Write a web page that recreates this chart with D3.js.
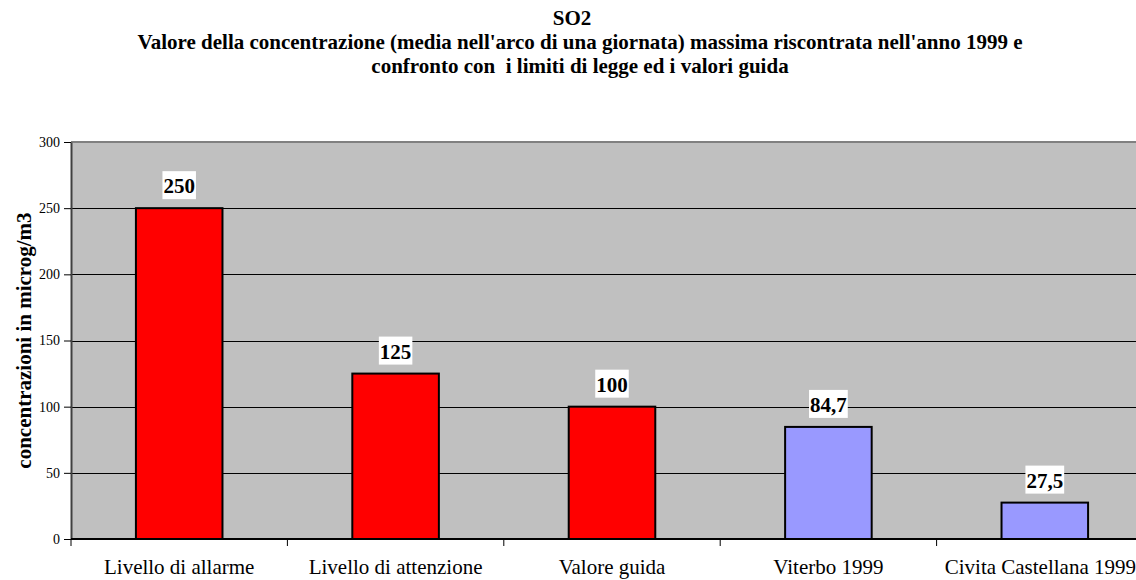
<!DOCTYPE html>
<html>
<head>
<meta charset="utf-8">
<script src="https://cdn.jsdelivr.net/npm/d3@7"></script>
<style>
  body { margin: 0; background: #fff; }
  text { font-family: "Liberation Serif", "Times New Roman", serif; }
</style>
</head>
<body>
<div id="chart"></div>
<script>
// Data
const categories = ["Livello di allarme", "Livello di attenzione", "Valore guida", "Viterbo 1999", "Civita Castellana 1999"];
const values = [250, 125, 100, 84.7, 27.5];
const barColors = ["#ff0000", "#ff0000", "#ff0000", "#9999ff", "#9999ff"];
const yTicks = [0, 50, 100, 150, 200, 250, 300];
const titleLines = [
    "SO2",
    "Valore della concentrazione (media nell'arco di una giornata) massima riscontrata nell'anno 1999 e",
    "confronto con  i limiti di legge ed i valori guida"
];

const width = 1136;
const height = 580;
const plot = { left: 71, right: 1153, top: 142, bottom: 539 };

const svg = d3.select("#chart")
    .append("svg")
    .attr("width", width)
    .attr("height", height);

// Title
svg.selectAll("text.title")
    .data(titleLines)
    .enter()
    .append("text")
    .attr("class", "title")
    .attr("x", (d, i) => i === 0 ? 572 : 580)
    .attr("y", (d, i) => 25 + i * 24)
    .attr("text-anchor", "middle")
    .attr("font-size", "21px")
    .attr("font-weight", "700")
    .style("white-space", "pre")
    .text(d => d);

// Scales
const x = d3.scaleBand()
    .domain(categories)
    .range([plot.left, plot.right])
    .paddingInner(0.6)
    .paddingOuter(0.3);

const xTick = d3.scaleBand()
    .domain(categories)
    .range([plot.left, plot.right]);

const y = d3.scaleLinear()
    .domain([0, 300])
    .range([plot.bottom, plot.top]);

// Plot background
svg.append("rect")
    .attr("x", plot.left)
    .attr("y", plot.top)
    .attr("width", plot.right - plot.left)
    .attr("height", plot.bottom - plot.top)
    .attr("fill", "#c0c0c0");

// Top border
svg.append("line")
    .attr("x1", plot.left)
    .attr("x2", plot.right)
    .attr("y1", plot.top)
    .attr("y2", plot.top)
    .attr("stroke", "#808080")
    .attr("stroke-width", 2);

// Grid lines
svg.append("g")
    .selectAll("line")
    .data(yTicks.filter(t => t > 0 && t < 300))
    .enter()
    .append("line")
    .attr("x1", plot.left)
    .attr("x2", plot.right)
    .attr("y1", d => Math.round(y(d)) + 0.5)
    .attr("y2", d => Math.round(y(d)) + 0.5)
    .attr("stroke", "#000")
    .attr("stroke-width", 1);

// Bars
svg.selectAll("rect.bar")
    .data(values)
    .enter()
    .append("rect")
    .attr("class", "bar")
    .attr("x", (d, i) => x(categories[i]))
    .attr("y", d => y(d))
    .attr("width", x.bandwidth())
    .attr("height", d => plot.bottom - y(d))
    .attr("fill", (d, i) => barColors[i])
    .attr("stroke", "#000")
    .attr("stroke-width", 2);

// Y axis
const yAxis = svg.append("g")
    .attr("transform", `translate(${plot.left},0)`)
    .call(d3.axisLeft(y).tickValues(yTicks).tickSize(7).tickSizeOuter(0));
yAxis.select(".domain").attr("stroke", "#404040").attr("stroke-width", 2);
yAxis.selectAll(".tick line").attr("stroke", "#000");
yAxis.selectAll(".tick text")
    .attr("font-size", "14px")
    .attr("font-family", "Liberation Serif, serif")
    .attr("fill", "#000")
    .attr("x", -11);

// X axis
const xAxis = svg.append("g")
    .attr("transform", `translate(0,${plot.bottom})`);
xAxis.append("line")
    .attr("x1", plot.left)
    .attr("x2", plot.right)
    .attr("y1", 0)
    .attr("y2", 0)
    .attr("stroke", "#000")
    .attr("stroke-width", 2);
xAxis.selectAll("line.tick")
    .data(categories)
    .enter()
    .append("line")
    .attr("class", "tick")
    .attr("x1", d => xTick(d))
    .attr("x2", d => xTick(d))
    .attr("y1", 0)
    .attr("y2", 7)
    .attr("stroke", "#000");
xAxis.selectAll("text")
    .data(categories)
    .enter()
    .append("text")
    .attr("x", (d, i) => i === categories.length - 1 ? 1136 : xTick(d) + xTick.bandwidth() / 2)
    .attr("y", 35)
    .attr("text-anchor", (d, i) => i === categories.length - 1 ? "end" : "middle")
    .attr("font-size", "21px")
    .attr("fill", "#000")
    .text(d => d);

// Y axis title
svg.append("text")
    .attr("transform", `translate(31,${(plot.top + plot.bottom) / 2}) rotate(-90)`)
    .attr("text-anchor", "middle")
    .attr("font-size", "21px")
    .attr("font-weight", "700")
    .text("concentrazioni in microg/m3");

// Value labels with white boxes
const fmt = v => String(v).replace(".", ",");
const labels = svg.selectAll("g.vlabel")
    .data(values)
    .enter()
    .append("g")
    .attr("class", "vlabel")
    .attr("transform", (d, i) => `translate(${x(categories[i]) + x.bandwidth() / 2},${y(d) - 15})`);

labels.append("text")
    .attr("text-anchor", "middle")
    .attr("font-size", "21px")
    .attr("font-weight", "700")
    .text(fmt)
    .each(function() {
        const b = this.getBBox();
        d3.select(this.parentNode).insert("rect", "text")
            .attr("x", b.x - 1)
            .attr("y", -22)
            .attr("width", b.width + 2)
            .attr("height", 28)
            .attr("fill", "#fff");
    });
</script>
</body>
</html>
